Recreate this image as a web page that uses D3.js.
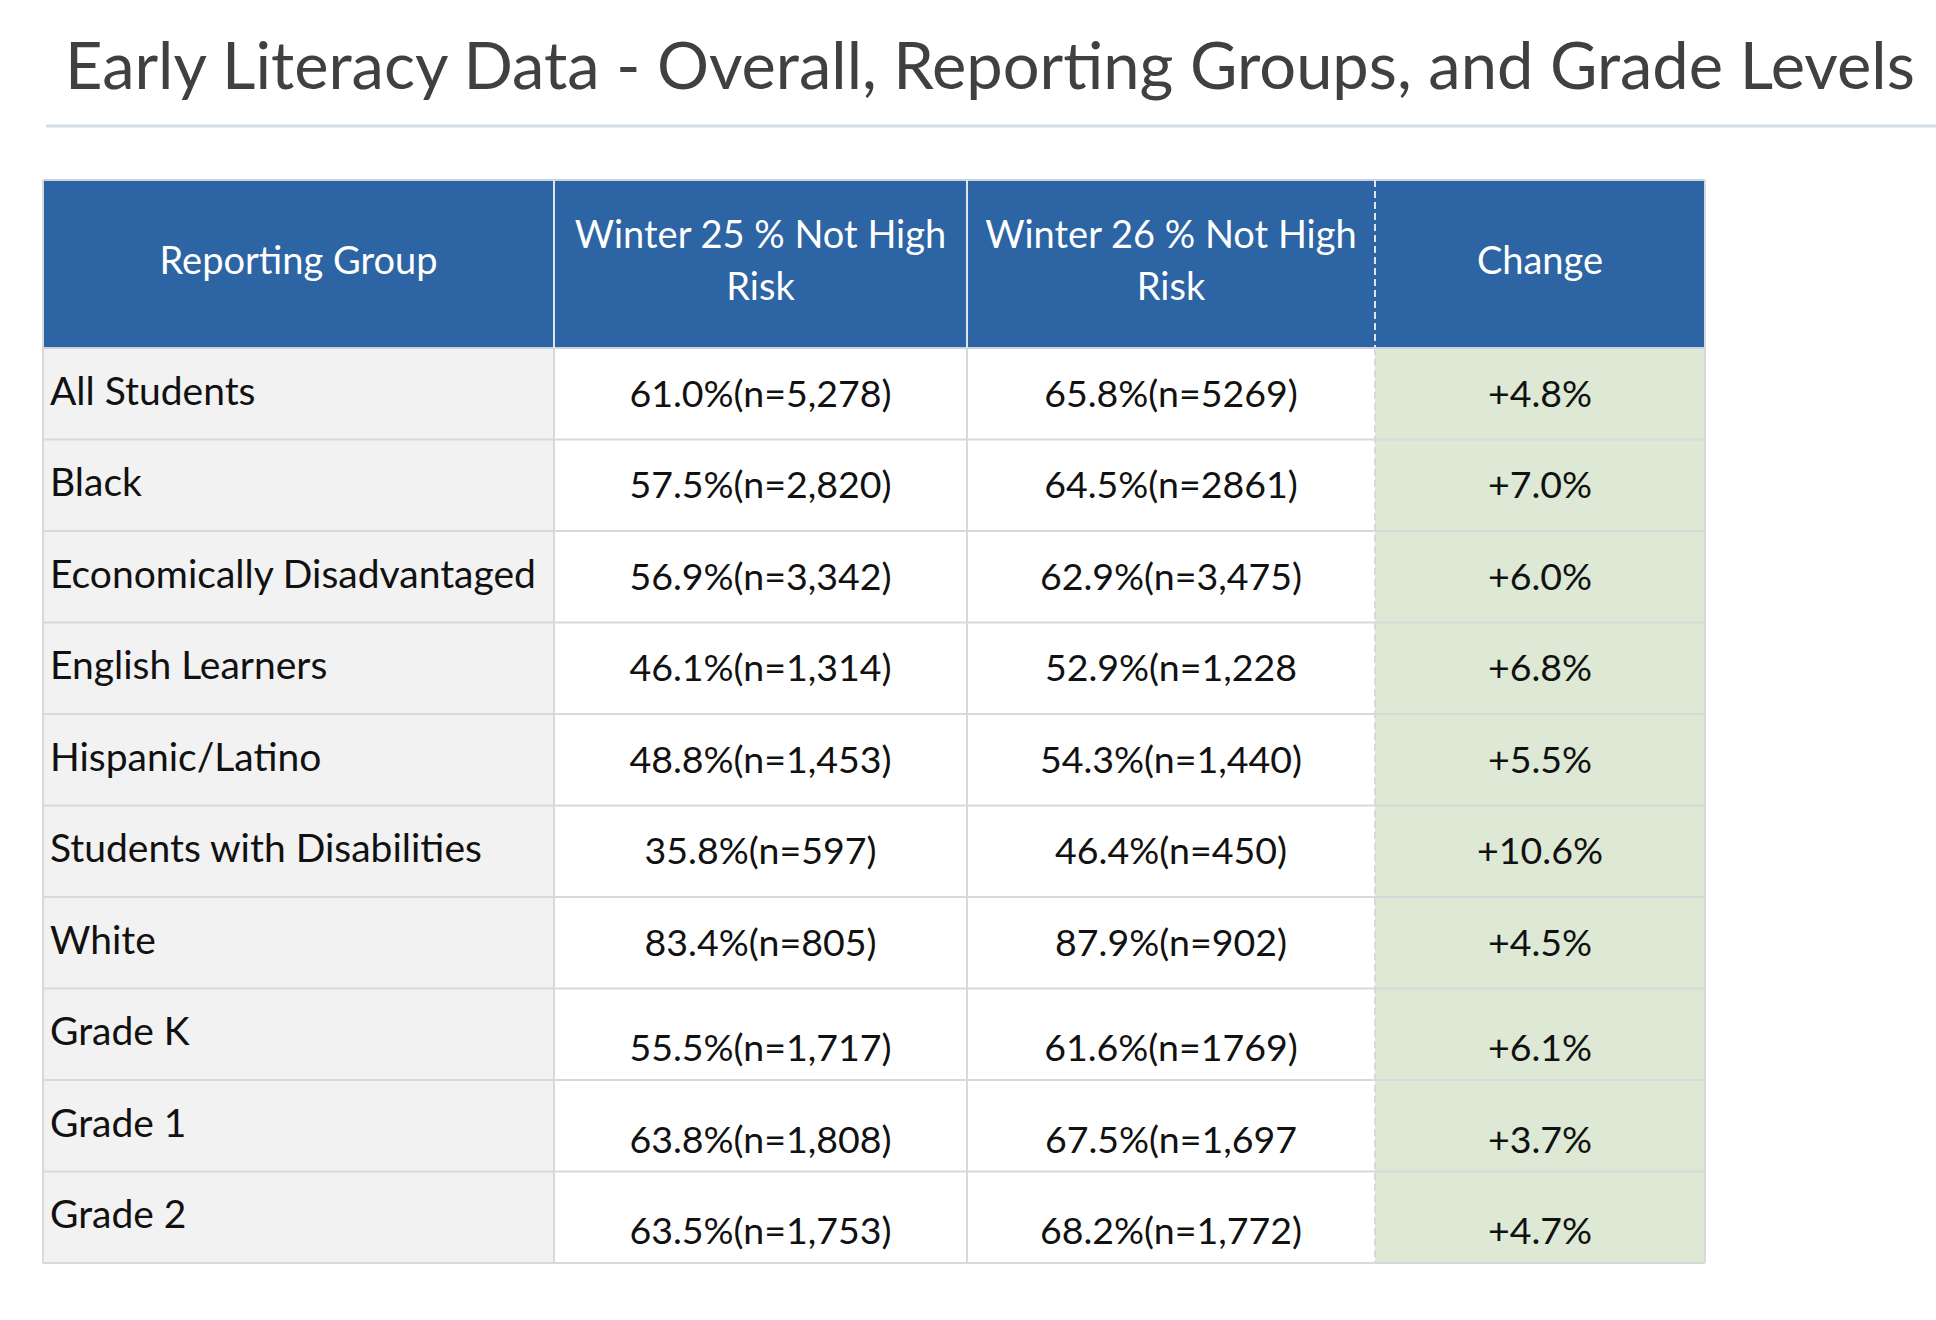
<!DOCTYPE html>
<html>
<head>
<meta charset="utf-8">
<script src="https://cdn.jsdelivr.net/npm/d3@7"></script>
<style>
  body { margin: 0; background: #fff; }
  text { font-family: Lato, "Noto Sans", sans-serif; }
</style>
</head>
<body>
<div id="chart-area"></div>
<script>
// table data
var groups = ["All Students", "Black", "Economically Disadvantaged", "English Learners",
  "Hispanic/Latino", "Students with Disabilities", "White", "Grade K", "Grade 1", "Grade 2"];
var winter25 = ["61.0%(n=5,278)", "57.5%(n=2,820)", "56.9%(n=3,342)", "46.1%(n=1,314)",
  "48.8%(n=1,453)", "35.8%(n=597)", "83.4%(n=805)", "55.5%(n=1,717)", "63.8%(n=1,808)", "63.5%(n=1,753)"];
var winter26 = ["65.8%(n=5269)", "64.5%(n=2861)", "62.9%(n=3,475)", "52.9%(n=1,228",
  "54.3%(n=1,440)", "46.4%(n=450)", "87.9%(n=902)", "61.6%(n=1769)", "67.5%(n=1,697", "68.2%(n=1,772)"];
var change = [4.8, 7.0, 6.0, 6.8, 5.5, 10.6, 4.5, 6.1, 3.7, 4.7];
var columns = ["group", "w25", "w26", "change"];
var headers = [["Reporting Group"], ["Winter 25 % Not High", "Risk"], ["Winter 26 % Not High", "Risk"], ["Change"]];

var width = 1936, height = 1320;
var tableLeft = 43, tableRight = 1705, headTop = 180, headBottom = 348, tableBottom = 1263;
var colEdges = [43, 554, 967, 1375, 1705];

var svg = d3.select("#chart-area").append("svg")
  .attr("width", width)
  .attr("height", height);

svg.append("text")
  .attr("x", 65)
  .attr("y", 89)
  .attr("font-size", "65px")
  .style("fill", "#404040")
  .text("Early Literacy Data - Overall, Reporting Groups, and Grade Levels");

svg.append("line")
  .attr("x1", 46).attr("x2", width)
  .attr("y1", 126).attr("y2", 126)
  .style("stroke", "#d6dee7")
  .style("stroke-width", 3);

var x = d3.scaleOrdinal().domain(columns).range(colEdges.slice(0, 4));
var colW = d3.scaleOrdinal().domain(columns).range(d3.pairs(colEdges).map(p => p[1] - p[0]));
var y = d3.scaleBand().domain(groups).range([headBottom, tableBottom]).padding(0);

var rows = groups.map((g, i) => ({
  group: g,
  w25: winter25[i],
  w26: winter26[i],
  change: "+" + d3.format(".1f")(change[i]) + "%",
  grade: g.indexOf("Grade") === 0
}));

var fills = { group: "#f2f2f2", w25: "#ffffff", w26: "#ffffff", change: "#dde8d5" };

// header
svg.append("rect")
  .attr("x", tableLeft).attr("y", headTop)
  .attr("width", tableRight - tableLeft).attr("height", headBottom - headTop)
  .style("fill", "#2c64a4");

var head = svg.append("g").selectAll("text").data(columns).enter().append("text")
  .attr("text-anchor", "middle")
  .attr("font-size", "38px")
  .style("fill", "#ffffff");
head.each(function(c, i) {
  var lines = headers[i];
  var cy = (headTop + headBottom) / 2;
  var t = d3.select(this);
  lines.forEach((l, j) => {
    t.append("tspan")
      .attr("x", x(c) + colW(c) / 2)
      .attr("y", cy + 10 + (j - (lines.length - 1) / 2) * 52)
      .text(l);
  });
});

// body cells
var rowG = svg.append("g").selectAll("g").data(rows).enter().append("g")
  .attr("transform", d => "translate(0," + y(d.group) + ")");

rowG.selectAll("rect").data(d => columns.map(c => ({ col: c, row: d }))).enter().append("rect")
  .attr("x", d => x(d.col))
  .attr("y", 0)
  .attr("width", d => colW(d.col))
  .attr("height", y.bandwidth())
  .style("fill", d => fills[d.col]);

rowG.selectAll("text").data(d => columns.map(c => ({ col: c, row: d }))).enter().append("text")
  .attr("x", d => d.col === "group" ? x(d.col) + 7 : x(d.col) + colW(d.col) / 2)
  .attr("y", d => y.bandwidth() / 2 + (d.col === "group" ? 11 : 13) + (d.row.grade && d.col !== "group" ? 14 : 0))
  .attr("text-anchor", d => d.col === "group" ? "start" : "middle")
  .attr("font-size", d => d.col === "group" ? "39px" : "37.5px")
  .style("fill", "#111111")
  .text(d => d.row[d.col]);

// grid lines
var grid = svg.append("g").style("stroke", "#d9d9d9").style("stroke-width", 2);
grid.selectAll("line.h").data(groups.slice(1)).enter().append("line")
  .attr("x1", tableLeft).attr("x2", tableRight)
  .attr("y1", d => y(d)).attr("y2", d => y(d));
grid.append("line")
  .attr("x1", tableLeft).attr("x2", tableRight)
  .attr("y1", headBottom).attr("y2", headBottom)
  .style("stroke", "#c9d3e0");
grid.append("line")
  .attr("x1", tableLeft).attr("x2", tableRight)
  .attr("y1", tableBottom).attr("y2", tableBottom);
grid.append("line")
  .attr("x1", tableLeft).attr("x2", tableRight)
  .attr("y1", headTop).attr("y2", headTop)
  .style("stroke", "#c9d3e0");

// vertical lines, header part white, body part gray
["w25", "w26", "change"].forEach(c => {
  grid.append("line")
    .attr("x1", x(c)).attr("x2", x(c))
    .attr("y1", headTop).attr("y2", headBottom)
    .style("stroke", "#dde4ee")
    .style("stroke-dasharray", c === "change" ? "7,4" : null);
  grid.append("line")
    .attr("x1", x(c)).attr("x2", x(c))
    .attr("y1", headBottom).attr("y2", tableBottom)
    .style("stroke-dasharray", c === "change" ? "7,4" : null);
});
[tableLeft, tableRight].forEach(xx => {
  grid.append("line")
    .attr("x1", xx).attr("x2", xx)
    .attr("y1", headTop).attr("y2", tableBottom);
});
</script>
</body>
</html>
